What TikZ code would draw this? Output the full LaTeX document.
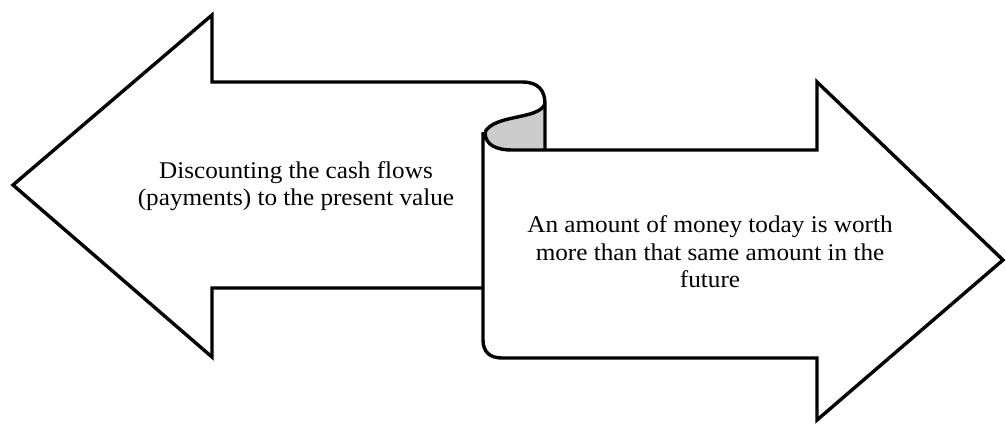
\documentclass[tikz,border=0pt]{standalone}
\usepackage{fontspec}
\setmainfont[FakeStretch=1.05]{Liberation Serif}
\usepackage{tikz}
\usetikzlibrary{positioning}

\begin{document}
\begin{tikzpicture}[x=1pt,y=-1pt,line width=3.4pt,line join=miter,
  arrowtext/.style={align=center,font=\fontsize{24}{27.5}\selectfont,inner sep=0pt}]
\useasboundingbox (0,0) rectangle (1006,423);
% curl shading
\fill[gray!40] (545,104) .. controls (538,120) and (495,114) .. (485,132) .. controls (485,146) and (498,150) .. (512,150) -- (545,150) -- cycle;
% left arrow
\draw (483,288) -- (212,288) -- (212,357) -- (13,185) -- (212,15) -- (212,82) -- (522,82) .. controls (538,82) and (545,90) .. (545,104) -- (545,150);
\draw (545,104) .. controls (538,120) and (495,114) .. (485,132);
% right arrow
\draw (485,132) .. controls (485,146) and (498,150) .. (512,150) -- (817,150) -- (817,82) -- (1003,260) -- (817,420) -- (817,358) -- (502,358) .. controls (490,358) and (483,352) .. (483,340) -- (483,132);
\node[arrowtext] (disc) at (296,186) {Discounting the cash flows\\(payments) to the present value};
\node[arrowtext] (worth) at (710,252) {An amount of money today is worth\\more than that same amount in the\\future};
\end{tikzpicture}
\end{document}
